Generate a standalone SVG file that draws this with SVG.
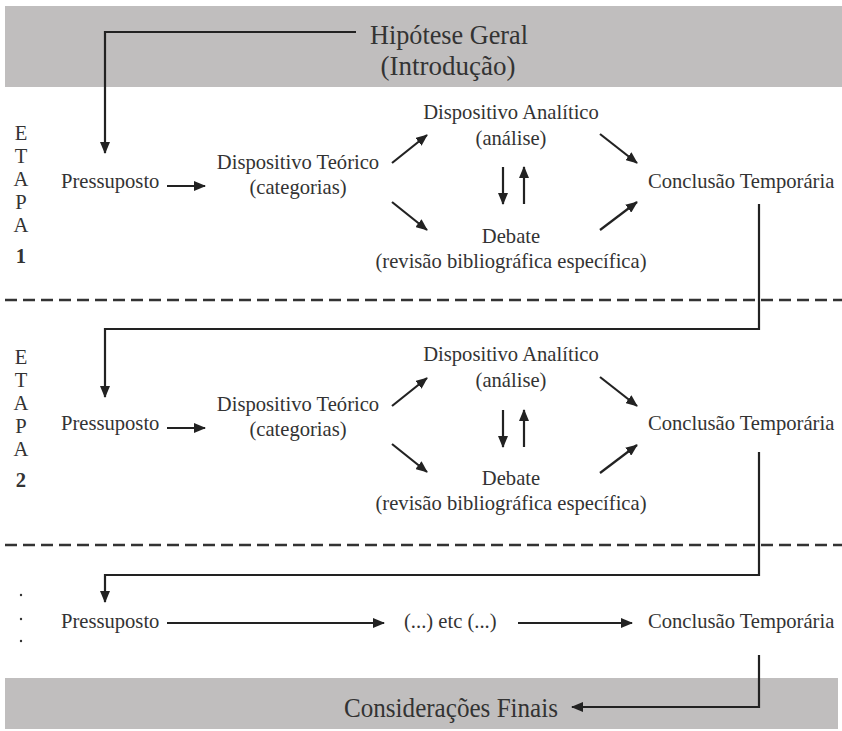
<svg xmlns="http://www.w3.org/2000/svg" width="842" height="731" viewBox="0 0 842 731">
<defs>
<style>
text{font-family:'Liberation Serif','Times New Roman',Times,serif;fill:#333}
.t{font-size:20.6px}
.big{font-size:27px}
.c{text-anchor:middle}
.ln{fill:none;stroke:#222;stroke-width:2.2}
.dash{fill:none;stroke:#333;stroke-width:2.5;stroke-dasharray:12 6}
.band{fill:#c0bebe}
</style>
<marker id="ah" markerUnits="userSpaceOnUse" markerWidth="12" markerHeight="10" refX="11" refY="5" orient="auto">
<path d="M0,0 L12,5 L0,10 Z" fill="#222"/>
</marker>
</defs>
<rect width="842" height="731" fill="#fff"/>
<rect class="band" x="5" y="6" width="837" height="81"/>
<rect class="band" x="5" y="678" width="833" height="51"/>
<line class="dash" x1="5" y1="300" x2="842" y2="300"/>
<line class="dash" x1="5" y1="545" x2="842" y2="545"/>

<g id="hipotese">
<text class="big c" x="449" y="44" textLength="158" lengthAdjust="spacingAndGlyphs">Hipótese Geral</text>
<text class="big c" x="448" y="75" textLength="135" lengthAdjust="spacingAndGlyphs">(Introdução)</text>
</g>
<g id="consideracoes">
<text class="big" x="344" y="717" textLength="214" lengthAdjust="spacingAndGlyphs">Considerações Finais</text>
</g>

<g id="etapa1">
<text class="t c" x="21" y="140">E</text>
<text class="t c" x="21" y="163">T</text>
<text class="t c" x="21" y="186">A</text>
<text class="t c" x="21" y="209">P</text>
<text class="t c" x="21" y="232">A</text>
<text class="t c" x="21" y="263" font-weight="bold">1</text>
</g>
<g id="pressuposto1"><text class="t" x="61" y="188">Pressuposto</text></g>
<g id="teorico1"><text class="t c" x="298" y="169">Dispositivo Teórico</text><text class="t c" x="298" y="194">(categorias)</text></g>
<g id="analitico1"><text class="t c" x="511" y="119">Dispositivo Analítico</text><text class="t c" x="511" y="145">(análise)</text></g>
<g id="debate1"><text class="t c" x="511" y="243">Debate</text><text class="t c" x="511" y="268">(revisão bibliográfica específica)</text></g>
<g id="conclusao1"><text class="t" x="648" y="188">Conclusão Temporária</text></g>

<g id="etapa2">
<text class="t c" x="21" y="364">E</text>
<text class="t c" x="21" y="387">T</text>
<text class="t c" x="21" y="410">A</text>
<text class="t c" x="21" y="433">P</text>
<text class="t c" x="21" y="456">A</text>
<text class="t c" x="21" y="487" font-weight="bold">2</text>
</g>
<g id="pressuposto2"><text class="t" x="61" y="430">Pressuposto</text></g>
<g id="teorico2"><text class="t c" x="298" y="411">Dispositivo Teórico</text><text class="t c" x="298" y="436">(categorias)</text></g>
<g id="analitico2"><text class="t c" x="511" y="361">Dispositivo Analítico</text><text class="t c" x="511" y="387">(análise)</text></g>
<g id="debate2"><text class="t c" x="511" y="485">Debate</text><text class="t c" x="511" y="510">(revisão bibliográfica específica)</text></g>
<g id="conclusao2"><text class="t" x="648" y="430">Conclusão Temporária</text></g>

<g id="etapa3">
<circle cx="21" cy="595" r="1.2" fill="#333"/>
<circle cx="21" cy="619" r="1.2" fill="#333"/>
<circle cx="21" cy="641" r="1.2" fill="#333"/>
</g>
<g id="pressuposto3"><text class="t" x="61" y="628">Pressuposto</text></g>
<g id="etc"><text class="t" x="404" y="628">(...) etc (...)</text></g>
<g id="conclusao3"><text class="t" x="648" y="628">Conclusão Temporária</text></g>

<g id="connectors">
<polyline class="ln" points="356,32 105,32 105,153" marker-end="url(#ah)"/>
<line class="ln" x1="167" y1="186" x2="205" y2="186" marker-end="url(#ah)"/>
<line class="ln" x1="392" y1="163" x2="427" y2="135" marker-end="url(#ah)"/>
<line class="ln" x1="392" y1="202" x2="427" y2="230" marker-end="url(#ah)"/>
<line class="ln" x1="503" y1="167" x2="503" y2="204" marker-end="url(#ah)"/>
<line class="ln" x1="524" y1="204" x2="524" y2="167" marker-end="url(#ah)"/>
<line class="ln" x1="600" y1="134" x2="637" y2="163" marker-end="url(#ah)"/>
<line class="ln" x1="600" y1="230" x2="637" y2="202" marker-end="url(#ah)"/>
<polyline class="ln" points="759,204 759,329 105,329 105,397" marker-end="url(#ah)"/>

<line class="ln" x1="167" y1="428" x2="205" y2="428" marker-end="url(#ah)"/>
<line class="ln" x1="392" y1="406" x2="427" y2="378" marker-end="url(#ah)"/>
<line class="ln" x1="392" y1="444" x2="427" y2="472" marker-end="url(#ah)"/>
<line class="ln" x1="503" y1="410" x2="503" y2="447" marker-end="url(#ah)"/>
<line class="ln" x1="524" y1="447" x2="524" y2="410" marker-end="url(#ah)"/>
<line class="ln" x1="600" y1="377" x2="637" y2="406" marker-end="url(#ah)"/>
<line class="ln" x1="600" y1="473" x2="637" y2="445" marker-end="url(#ah)"/>
<polyline class="ln" points="759,452 759,575 105,575 105,602" marker-end="url(#ah)"/>

<line class="ln" x1="167" y1="623" x2="384" y2="623" marker-end="url(#ah)"/>
<line class="ln" x1="518" y1="623" x2="632" y2="623" marker-end="url(#ah)"/>
<polyline class="ln" points="759,655 759,707 572,707" marker-end="url(#ah)"/>
</g>
</svg>
